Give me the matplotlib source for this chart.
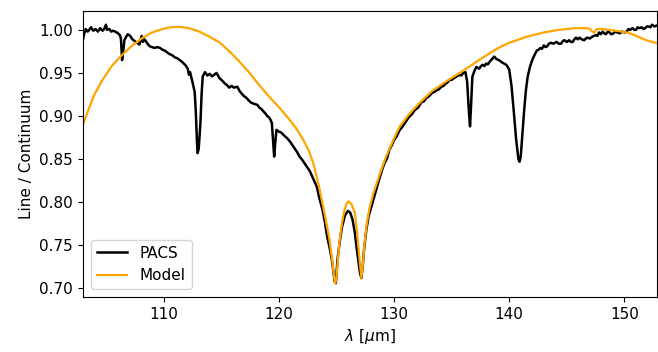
""" PACS line-to-continuum spectrum against the model """

import matplotlib
matplotlib.use("Agg")
import matplotlib.pyplot as plt

# PACS spectrum
pacs_wave = [103.0, 103.1, 103.25, 103.4, 103.5, 103.7, 103.9, 104.1, 104.3, 104.5,
             104.7, 104.85, 105.0, 105.1, 105.3, 105.45, 105.6, 105.8, 106.0, 106.2,
             106.3, 106.4, 106.5, 106.6, 106.75, 106.9, 107.1, 107.3, 107.5, 107.7,
             107.9, 108.1, 108.2, 108.35, 108.6, 108.8, 109.0, 109.2, 109.45, 109.7,
             109.9, 110.1, 110.3, 110.5, 110.7, 111.0, 111.2, 111.4, 111.6, 111.9,
             112.1, 112.2, 112.3, 112.5, 112.7, 112.8, 112.9, 112.95, 113.05, 113.2,
             113.3, 113.4, 113.6, 113.8, 114.0, 114.2, 114.4, 114.6, 114.85, 115.1,
             115.3, 115.5, 115.7, 115.9, 116.1, 116.4, 116.6, 116.85, 117.0, 117.2,
             117.4, 117.6, 117.9, 118.15, 118.3, 118.5, 118.7, 118.9, 119.0, 119.2,
             119.4, 119.5, 119.6, 119.7, 119.8, 120.0, 120.2, 120.5, 120.75, 121.0,
             121.2, 121.4, 121.6, 121.8, 122.05, 122.4, 122.7, 123.0, 123.3, 123.5,
             123.8, 124.0, 124.2, 124.4, 124.6, 124.75, 124.85, 124.95, 125.05, 125.1,
             125.3, 125.5, 125.75, 126.0, 126.2, 126.4, 126.6, 126.74, 126.9, 127.05,
             127.17, 127.3, 127.4, 127.6, 127.8, 128.0, 128.3, 128.5, 128.7, 129.0,
             129.2, 129.4, 129.6, 129.8, 130.0, 130.25, 130.5, 130.7, 130.9, 131.1,
             131.3, 131.55, 131.8, 132.1, 132.4, 132.6, 132.8, 133.05, 133.3, 133.5,
             133.7, 133.9, 134.1, 134.3, 134.5, 134.65, 134.8, 135.0, 135.2, 135.45,
             135.7, 135.85, 136.0, 136.2, 136.35, 136.5, 136.6, 136.7, 136.8, 137.0,
             137.15, 137.4, 137.55, 137.7, 137.85, 138.0, 138.15, 138.3, 138.5, 138.7,
             138.9, 139.1, 139.4, 139.75, 140.0, 140.2, 140.4, 140.6, 140.8, 140.9,
             141.0, 141.15, 141.3, 141.45, 141.6, 141.8, 142.0, 142.2, 142.4, 142.55,
             142.7, 142.85, 143.0, 143.15, 143.3, 143.45, 143.6, 143.85, 144.1, 144.3,
             144.5, 144.65, 144.8, 145.0, 145.2, 145.35, 145.5, 145.65, 145.8, 145.95,
             146.1, 146.3, 146.5, 146.75, 147.0, 147.2, 147.35, 147.5, 147.65, 147.8,
             147.95, 148.1, 148.25, 148.4, 148.55, 148.7, 148.85, 149.0, 149.2, 149.4,
             149.6, 149.8, 150.0, 150.2, 150.35, 150.5, 150.7, 150.85, 151.0, 151.15,
             151.3, 151.5, 151.65, 151.8, 151.95, 152.1, 152.25, 152.4, 152.6, 152.8,
             153.0]
pacs_flux = [0.988, 0.995, 1.001, 0.998, 0.999, 1.003, 0.999, 1.001, 0.998, 1.002,
             0.999, 1.001, 1.006, 1.000, 1.001, 0.998, 0.999, 0.998, 0.9965, 0.994,
             0.990, 0.965, 0.975, 0.988, 0.992, 0.995, 0.993, 0.989, 0.987, 0.985,
             0.983, 0.993, 0.986, 0.989, 0.984, 0.981, 0.980, 0.979, 0.980, 0.979,
             0.977, 0.976, 0.974, 0.972, 0.971, 0.968, 0.967, 0.965, 0.963, 0.959,
             0.955, 0.948, 0.951, 0.940, 0.928, 0.905, 0.870, 0.857, 0.862, 0.892,
             0.925, 0.946, 0.951, 0.947, 0.949, 0.946, 0.948, 0.950, 0.944, 0.941,
             0.938, 0.936, 0.933, 0.935, 0.933, 0.934, 0.929, 0.925, 0.923, 0.921,
             0.918, 0.9155, 0.914, 0.913, 0.910, 0.908, 0.905, 0.902, 0.900, 0.898,
             0.892, 0.872, 0.853, 0.870, 0.884, 0.882, 0.881, 0.877, 0.874, 0.870,
             0.866, 0.862, 0.858, 0.853, 0.849, 0.842, 0.836, 0.827, 0.818, 0.806,
             0.791, 0.777, 0.760, 0.748, 0.734, 0.718, 0.708, 0.706, 0.725, 0.734,
             0.755, 0.772, 0.785, 0.790, 0.788, 0.780, 0.765, 0.749, 0.733, 0.718,
             0.712, 0.728, 0.745, 0.768, 0.784, 0.793, 0.807, 0.816, 0.826, 0.839,
             0.846, 0.851, 0.861, 0.866, 0.872, 0.877, 0.884, 0.887, 0.891, 0.895,
             0.899, 0.902, 0.907, 0.910, 0.9165, 0.917, 0.921, 0.923, 0.927, 0.928,
             0.930, 0.931, 0.934, 0.935, 0.938, 0.939, 0.942, 0.942, 0.944, 0.946,
             0.948, 0.947, 0.950, 0.951, 0.940, 0.905, 0.888, 0.915, 0.9455, 0.953,
             0.957, 0.955, 0.958, 0.9595, 0.958, 0.961, 0.960, 0.963, 0.966, 0.969,
             0.966, 0.965, 0.962, 0.9595, 0.954, 0.935, 0.905, 0.873, 0.850, 0.847,
             0.853, 0.880, 0.907, 0.930, 0.9455, 0.957, 0.965, 0.971, 0.976, 0.977,
             0.979, 0.978, 0.982, 0.980, 0.981, 0.984, 0.985, 0.984, 0.986, 0.984,
             0.984, 0.987, 0.988, 0.986, 0.988, 0.986, 0.986, 0.989, 0.991, 0.989,
             0.991, 0.989, 0.988, 0.991, 0.990, 0.992, 0.993, 0.994, 0.993, 0.997,
             0.995, 0.998, 0.996, 0.995, 0.998, 0.997, 0.995, 0.9955, 0.998, 0.997,
             0.996, 0.998, 0.997, 0.998, 1.001, 1.000, 1.002, 1.000, 1.000, 1.003,
             1.002, 1.003, 1.001, 1.002, 1.004, 1.004, 1.003, 1.006, 1.004, 1.005,
             1.005]

# Model curve
model_wave = [103.0, 103.5, 104.0, 104.7, 105.5, 106.4, 107.3, 108.2, 109.0, 109.9,
              110.6, 111.4, 112.2, 113.1, 114.0, 114.9, 115.8, 116.6, 117.4, 118.3,
              119.2, 120.1, 120.8, 121.5, 122.1, 122.6, 123.0, 123.5, 124.0, 124.4,
              124.66, 124.8, 124.9, 125.0, 125.26, 125.5, 125.7, 125.9, 126.05, 126.3,
              126.6, 126.8, 127.0, 127.17, 127.3, 127.45, 127.65, 127.87, 128.2, 128.7,
              129.2, 129.6, 130.0, 130.5, 131.3, 132.2, 133.3, 134.5, 135.7, 136.5,
              137.5, 138.5, 139.2, 140.0, 141.5, 143.0, 144.3, 145.7, 146.7, 147.0,
              147.2, 147.4, 147.6, 148.0, 148.7, 149.5, 150.4, 151.2, 151.9, 153.0]
model_flux = [0.890, 0.908, 0.925, 0.942, 0.958, 0.971, 0.982, 0.991, 0.997, 1.001,
              1.003, 1.0035, 1.002, 0.998, 0.992, 0.985, 0.974, 0.963, 0.951, 0.936,
              0.922, 0.909, 0.898, 0.886, 0.873, 0.860, 0.845, 0.818, 0.785, 0.757,
              0.730, 0.713, 0.706, 0.712, 0.753, 0.777, 0.791, 0.799, 0.801, 0.798,
              0.788, 0.765, 0.735, 0.712, 0.728, 0.753, 0.776, 0.793, 0.810, 0.830,
              0.849, 0.862, 0.874, 0.888, 0.902, 0.915, 0.929, 0.940, 0.950, 0.957,
              0.966, 0.9745, 0.980, 0.985, 0.992, 0.997, 1.000, 1.002, 1.002, 1.001,
              0.998, 0.997, 1.001, 1.001, 1.000, 0.9985, 0.9965, 0.992, 0.988, 0.984]

y_ticks = [0.70, 0.75, 0.80, 0.85, 0.90, 0.95, 1.00]
x_ticks = [110, 120, 130, 140, 150]

plt.rcParams["font.size"] = 11

fig = plt.figure(figsize=(6.58, 3.52), dpi=100)
ax = fig.add_axes([0.126, 0.156, 0.872, 0.813])

ax.plot(pacs_wave, pacs_flux, color="k", lw=1.8, label="PACS")
ax.plot(model_wave, model_flux, color="orange", lw=1.6, label="Model")

ax.set_xlim(103.0, 152.8)
ax.set_ylim(0.69, 1.022)
ax.set_xticks(x_ticks)
ax.set_yticks(y_ticks)
ax.set_yticklabels(["{:.2f}".format(t) for t in y_ticks])
ax.set_xlabel(r"$\lambda$ [$\mu$m]")
ax.set_ylabel("Line / Continuum")
ax.legend(loc="lower left")

fig.savefig("out.png", dpi=100)
